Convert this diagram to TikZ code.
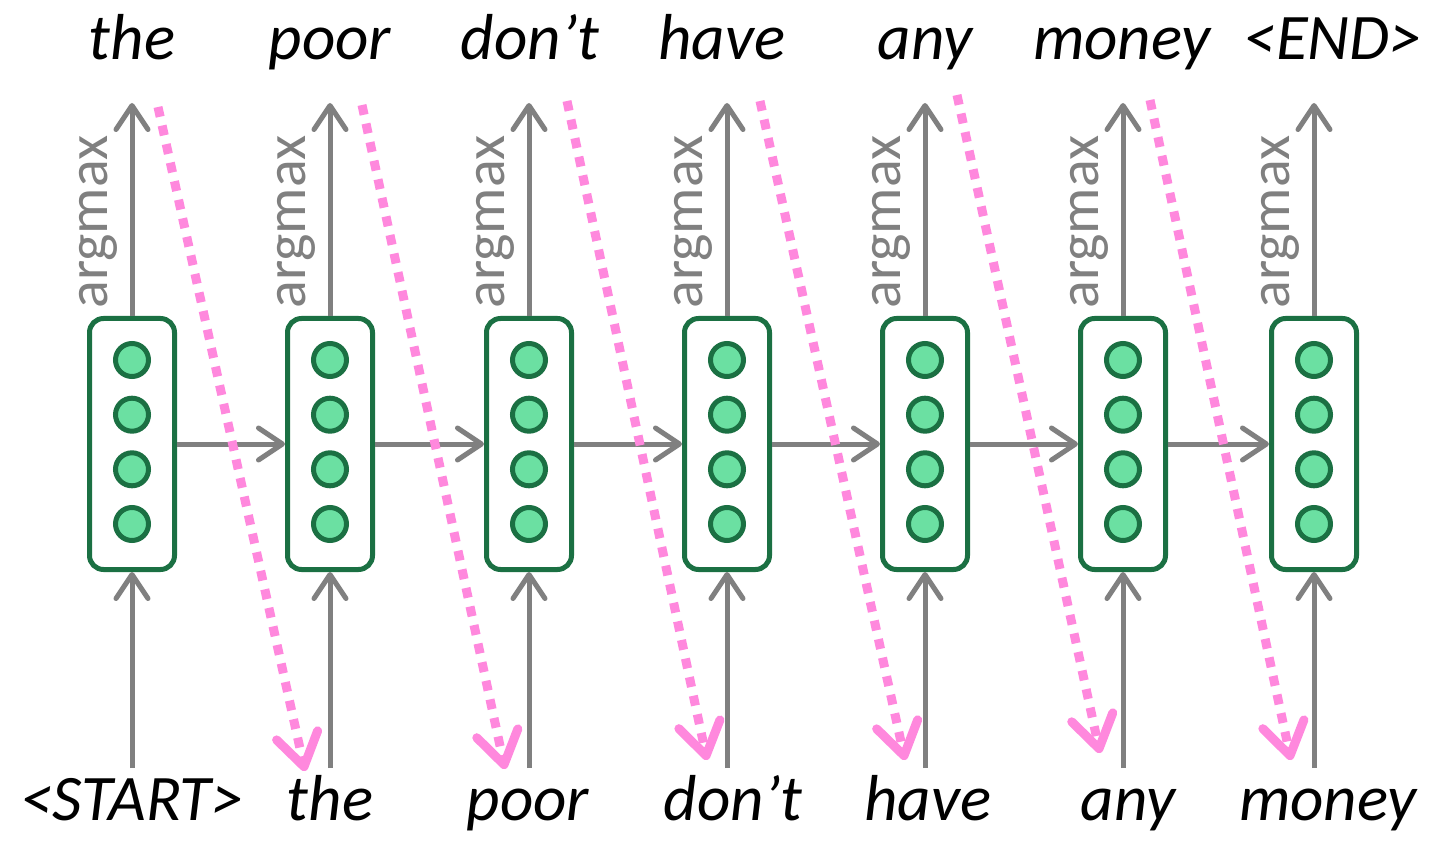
\documentclass[tikz,border=0pt]{standalone}
\usepackage{fontspec}
\setmainfont{Carlito}
\usetikzlibrary{arrows.meta}
\definecolor{dkgreen}{HTML}{1B7043}
\definecolor{ltgreen}{HTML}{6BE0A2}
\definecolor{arrgray}{HTML}{808080}
\definecolor{pinkc}{HTML}{FF88DD}
\begin{document}
\begin{tikzpicture}[x=0.5pt,y=-0.5pt,
  cell/.style={draw=dkgreen, line width=2.5pt, rounded corners=7pt, minimum width=42.5pt, minimum height=125.5pt, inner sep=0pt, fill=white},
  unit/.style={circle, draw=dkgreen, fill=ltgreen, line width=2.5pt, minimum size=16.5pt, inner sep=0pt},
  flow/.style={draw=arrgray, line width=2.5pt, -{Straight Barb[length=12pt,width=16pt,line cap=round,line join=round]}},
  feed/.style={draw=pinkc, line width=4.5pt, dash pattern=on 5pt off 4.5pt, -{Straight Barb[length=16pt,width=21pt,line cap=round,line join=round]}},
  word/.style={font=\itshape\fontsize{32.5}{37}\selectfont, anchor=base, inner sep=0pt},
  amx/.style={font=\fontsize{29}{33}\selectfont, text=arrgray, rotate=90, anchor=base, inner sep=0pt}
]
\useasboundingbox (0,0) rectangle (1432,856);

% cells
\foreach \i/\x in {1/132,2/330,3/529,4/727,5/925,6/1123,7/1314}{
  \node[cell] (b\i) at (\x,444) {};
  \node[unit] (u\i a) at (\x,360) {};
  \node[unit] (u\i b) at (\x,414.7) {};
  \node[unit] (u\i c) at (\x,469.3) {};
  \node[unit] (u\i d) at (\x,524) {};
  \coordinate (t\i) at (\x,103);
  \coordinate (s\i) at (\x,768);
  \node[amx] (am\i) at (\x-25,222) {argmax};
  \draw[flow] (b\i.north) -- (t\i);
  \draw[flow] (s\i) -- (b\i.south);
}

% recurrent connections
\foreach \i/\j in {1/2,2/3,3/4,4/5,5/6,6/7}{
  \draw[flow] (b\i.east) -- (b\j.west);
}

% output words
\node[word] (o1) at (132,60) {the};
\node[word] (o2) at (330,60) {poor};
\node[word] (o3) at (530,60) {don’t};
\node[word] (o4) at (722,60) {have};
\node[word] (o5) at (925,60) {any};
\node[word] (o6) at (1122,60) {money};
\node[word] (o7) at (1333,60) {<END>};

% input words
\node[word] (i1) at (132,820) {<START>};
\node[word] (i2) at (330,820) {the};
\node[word] (i3) at (528,820) {poor};
\node[word] (i4) at (733,820) {don’t};
\node[word] (i5) at (928,820) {have};
\node[word] (i6) at (1128,820) {any};
\node[word] (i7) at (1328,820) {money};

% feeding outputs back as inputs
\coordinate (p1s) at (158,107);  \coordinate (p1e) at (305,771);
\coordinate (p2s) at (362,105);  \coordinate (p2e) at (505,769);
\coordinate (p3s) at (567,101);  \coordinate (p3e) at (707,760);
\coordinate (p4s) at (760,101);  \coordinate (p4e) at (905,760);
\coordinate (p5s) at (957,95);   \coordinate (p5e) at (1100,753);
\coordinate (p6s) at (1150,100); \coordinate (p6e) at (1291,760);
\foreach \i in {1,...,6}{
  \draw[feed] (p\i s) -- (p\i e);
}
\end{tikzpicture}
\end{document}
